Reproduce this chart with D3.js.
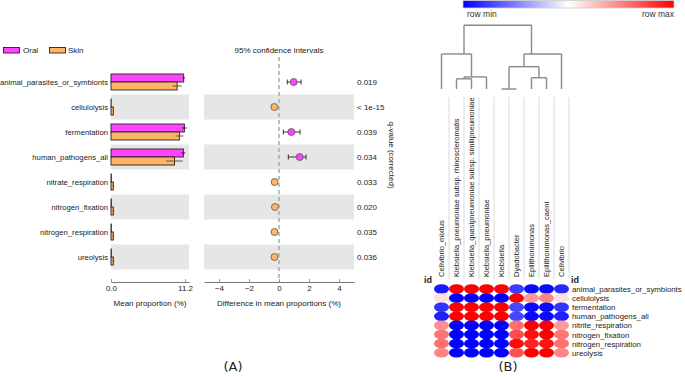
<!DOCTYPE html>
<html><head><meta charset="utf-8">
<script src="https://cdn.jsdelivr.net/npm/d3@7"></script>
<style>body{margin:0;background:#fff} svg{display:block;font-family:"Liberation Sans",Arial,sans-serif}</style>
</head><body><svg id="c" width="685" height="377"></svg>
<script>
// ---------- Data (panel A) ----------
const categories = ["animal_parasites_or_symbionts","cellulolysis","fermentation","human_pathogens_all","nitrate_respiration","nitrogen_fixation","nitrogen_respiration","ureolysis"];
const groups = ["Oral","Skin"];
const oralMean = [11.0, 0.03, 11.1, 10.95, 0.05, 0.05, 0.05, 0.05];
const oralErr  = [0.2, 0.0, 0.35, 0.3, 0.02, 0.02, 0.02, 0.02];
const skinMean = [10.0, 0.35, 10.35, 9.6, 0.35, 0.35, 0.35, 0.35];
const skinErr  = [0.7, 0.08, 0.6, 1.25, 0.15, 0.15, 0.15, 0.15];
const diffMean = [0.98, -0.31, 0.82, 1.38, -0.29, -0.27, -0.30, -0.30];
const diffLow  = [0.55, -0.33, 0.29, 0.62, -0.42, -0.36, -0.42, -0.40];
const diffHigh = [1.47, -0.29, 1.40, 1.80, -0.22, -0.20, -0.22, -0.22];
const qValues  = ["0.019","< 1e-15","0.039","0.034","0.033","0.020","0.035","0.036"];
const barTicks = [0, 11.2];
const diffTicks = [-4, -2, 0, 2, 4];

// ---------- Data (panel B) ----------
const hmColumns = ["Cellvibrio_mixtus","Klebsiella_pneumoniae subsp. rhinoscleromatis","Klebsiella_quasipneumoniae subsp. similipneumoniae","Klebsiella_pneumoniae","Klebsiella","Dyadobacter","Epilithonimonas","Epilithonimonas_caeni","Cellvibrio"];
const hmRows = ["animal_parasites_or_symbionts","cellulolysis","fermentation","human_pathogens_all","nitrite_respiration","nitrogen_fixation","nitrogen_respiration","ureolysis"];
// row-normalised values: 0 = row min, 1 = row max
const hmValues = [
  [0.05, 1, 1, 1, 1, 0.12, 0.02, 0.02, 0.08],
  [0.56, 0, 0, 0, 0, 1, 0.70, 0.74, 0.56],
  [0.10, 1, 1, 1, 1, 0.14, 0.02, 0.02, 0.10],
  [0.06, 1, 1, 1, 1, 0.14, 0.02, 0.02, 0.06],
  [0.72, 0, 0, 0, 0, 0.78, 1, 1, 0.70],
  [0.77, 0, 0, 0, 0, 0.85, 0.97, 1, 0.77],
  [0.78, 0, 0, 0, 0, 0.98, 0.93, 0.96, 0.78],
  [0.74, 0, 0, 0, 0, 0.84, 1, 1, 0.74]
];
// column dendrogram (leaf = column index, h = merge height)
const dendrogram = {h:1, children:[
  {h:0.55, children:[0, {h:0.19, children:[{h:0.16, children:[1,2]}, 3]}]},
  {h:0.55, children:[{h:0.35, children:[{h:0, children:[4,5]}, {h:0.177, children:[6,7]}]}, 8]}
]};

// ---------- Styles ----------
const C_ORAL = "#ff44ff", C_SKIN = "#ffb565", C_BAND = "#e6e6e6";
const svg = d3.select("#c");

// ================= PANEL A =================
const y = d3.scaleBand().domain(categories).range([69.5, 269.5]);
const xBar = d3.scaleLinear().domain([0, 11.8]).range([111, 189]);
const xDiff = d3.scaleLinear().domain([-5, 5]).range([204, 354]);
const axisY = 282;

// bands
const bandIdx = categories.map((c,i)=>i).filter(i=>i%2===1);
svg.append("g").selectAll("rect").data(bandIdx).join("rect")
  .attr("x", xBar(0)).attr("width", xBar.range()[1]-xBar(0))
  .attr("y", i=>y(categories[i])).attr("height", y.bandwidth()).attr("fill", C_BAND);
svg.append("g").selectAll("rect").data(bandIdx).join("rect")
  .attr("x", xDiff.range()[0]).attr("width", xDiff.range()[1]-xDiff.range()[0])
  .attr("y", i=>y(categories[i])).attr("height", y.bandwidth()).attr("fill", C_BAND);

// legend
const leg = svg.append("g").attr("font-size", 8).attr("fill","#222");
[[C_ORAL, groups[0], 3.5, 23],[C_SKIN, groups[1], 49.5, 68]].forEach(([col, name, rx, tx])=>{
  leg.append("rect").attr("x", rx).attr("y", 47.5).attr("width", 16).attr("height", 5.5)
    .attr("fill", col).attr("stroke", "#222").attr("stroke-width", 0.9);
  leg.append("text").attr("x", tx).attr("y", 53).text(name);
});

// row labels
svg.append("g").attr("font-size", 7.7).attr("fill","#222").attr("text-anchor","end")
  .selectAll("text").data(categories).join("text")
  .attr("x", 108).attr("y", c=>y(c)+y.bandwidth()/2+2.8).text(c=>c);

// bars
const bh = 8;
const gb = svg.append("g");
categories.forEach((c,i)=>{
  const cy = y(c)+y.bandwidth()/2;
  gb.append("rect").attr("x", xBar(0)).attr("y", cy-bh).attr("width", Math.max(0,xBar(oralMean[i])-xBar(0))).attr("height", bh)
    .attr("fill", C_ORAL).attr("stroke","#222").attr("stroke-width",0.9);
  gb.append("rect").attr("x", xBar(0)).attr("y", cy).attr("width", Math.max(0,xBar(skinMean[i])-xBar(0))).attr("height", bh)
    .attr("fill", C_SKIN).attr("stroke","#222").attr("stroke-width",0.9);
  gb.append("line").attr("x1", xBar(Math.max(0,oralMean[i]-oralErr[i]))).attr("x2", xBar(oralMean[i]+oralErr[i]))
    .attr("y1", cy-bh/2).attr("y2", cy-bh/2).attr("stroke","#222").attr("stroke-width",1);
  gb.append("line").attr("x1", xBar(Math.max(0,skinMean[i]-skinErr[i]))).attr("x2", xBar(skinMean[i]+skinErr[i]))
    .attr("y1", cy+bh/2).attr("y2", cy+bh/2).attr("stroke","#555").attr("stroke-width",1);
});

// axes
function styleAxis(g){
  g.select(".domain").attr("stroke","#777");
  g.selectAll(".tick line").attr("stroke","#999");
  g.selectAll(".tick text").attr("fill","#222").attr("font-size",8).attr("font-family",'"Liberation Sans",Arial,sans-serif');
}
svg.append("g").attr("transform",`translate(0,${axisY})`)
  .call(d3.axisBottom(xBar).tickValues(barTicks).tickFormat(d3.format(".1f")).tickSizeInner(-3).tickSizeOuter(0).tickPadding(3))
  .call(styleAxis);
svg.append("g").attr("transform",`translate(0,${axisY})`)
  .call(d3.axisBottom(xDiff).tickValues(diffTicks).tickSizeInner(-3).tickSizeOuter(0).tickPadding(3))
  .call(styleAxis);

svg.append("text").attr("x", 150).attr("y", 306).attr("text-anchor","middle").attr("font-size",8).attr("fill","#222").text("Mean proportion (%)");
svg.append("text").attr("x", xDiff(0)).attr("y", 306).attr("text-anchor","middle").attr("font-size",8).attr("fill","#222").text("Difference in mean proportions (%)");
svg.append("text").attr("x", xDiff(0)).attr("y", 53).attr("text-anchor","middle").attr("font-size",8).attr("fill","#222").text("95% confidence intervals");

// zero dashed line
svg.append("line").attr("x1", xDiff(0)).attr("x2", xDiff(0)).attr("y1", 57).attr("y2", axisY)
  .attr("stroke","#aaa").attr("stroke-width",1.5).attr("stroke-dasharray","4,3");

// CIs
const gc = svg.append("g");
categories.forEach((c,i)=>{
  const cy = y(c)+y.bandwidth()/2;
  gc.append("line").attr("x1", xDiff(diffLow[i])).attr("x2", xDiff(diffHigh[i])).attr("y1",cy).attr("y2",cy).attr("stroke","#333").attr("stroke-width",1);
  [diffLow[i], diffHigh[i]].forEach(v=>gc.append("line").attr("x1",xDiff(v)).attr("x2",xDiff(v)).attr("y1",cy-2.5).attr("y2",cy+2.5).attr("stroke","#333").attr("stroke-width",1));
  gc.append("circle").attr("cx", xDiff(diffMean[i])).attr("cy", cy).attr("r", 3.5)
    .attr("fill", diffMean[i] > 0 ? C_ORAL : C_SKIN).attr("stroke","#555").attr("stroke-width",0.8);
});

// q-values
svg.append("g").attr("font-size",8).attr("fill","#222").selectAll("text").data(qValues).join("text")
  .attr("x", 357).attr("y", (q,i)=>y(categories[i])+y.bandwidth()/2+2.8).text(q=>q);
svg.append("text").attr("transform","translate(389,155) rotate(90)").attr("text-anchor","middle")
  .attr("font-size",8).attr("fill","#222").text("q-value (corrected)");

svg.append("text").attr("x",233).attr("y",371).attr("text-anchor","middle").attr("font-size",13)
  .attr("font-family","DejaVu Sans, sans-serif").attr("fill","#222").text("(A)");
svg.append("text").attr("x",508).attr("y",371).attr("text-anchor","middle").attr("font-size",13)
  .attr("font-family","DejaVu Sans, sans-serif").attr("fill","#222").text("(B)");

// ================= PANEL B =================
const hx = d3.scaleBand().domain(hmColumns).range([434, 569]);
const hy = d3.scaleBand().domain(hmRows).range([284.5, 357.3]);
const color = d3.scaleLinear().domain([0, 0.5, 1]).range(["#0000ff","#ffffff","#ff0000"]);

// color bar
const defs = svg.append("defs");
const grad = defs.append("linearGradient").attr("id","cb");
[0,0.25,0.5,0.75,1].forEach(t=>grad.append("stop").attr("offset",t*100+"%").attr("stop-color",color(t)));
svg.append("rect").attr("x",463).attr("y",0.5).attr("width",211).attr("height",7.5)
  .attr("fill","url(#cb)").attr("stroke","#ccc").attr("stroke-width",0.8);
svg.append("text").attr("x",467).attr("y",17).attr("font-size",8.5).attr("fill","#333").text("row min");
svg.append("text").attr("x",674).attr("y",17).attr("text-anchor","end").attr("font-size",8.5).attr("fill","#333").text("row max");

// dendrogram
const dY = d3.scaleLinear().domain([0,1]).range([89, 25.3]);
const cx = i => hx(hmColumns[i]) + hx.bandwidth()/2;
function leaves(n){ return typeof n === "number" ? [n] : n.children.flatMap(leaves); }
function nx(n){ return d3.mean(leaves(n), cx); }
function nh(n){ return typeof n === "number" ? 0 : n.h; }
const gd = svg.append("g").attr("stroke","#8a8a8a").attr("stroke-width",1.4).attr("fill","none");
(function draw(n){
  if (typeof n === "number") return;
  const ys = dY(n.h);
  const xs = n.children.map(nx);
  gd.append("line").attr("x1", xs[0]).attr("x2", xs[1]).attr("y1", ys).attr("y2", ys);
  n.children.forEach((ch,k)=>{
    gd.append("line").attr("x1", xs[k]).attr("x2", xs[k]).attr("y1", dY(nh(ch))).attr("y2", ys);
    draw(ch);
  });
})(dendrogram);

// column separator lines
svg.append("g").selectAll("line").data(hmColumns).join("line")
  .attr("x1", c=>hx(c)+hx.bandwidth()).attr("x2", c=>hx(c)+hx.bandwidth())
  .attr("y1", 97).attr("y2", 279).attr("stroke","#d0d0d0").attr("stroke-width",0.8);

// column labels
svg.append("g").attr("font-size",7.5).attr("fill","#222").selectAll("text").data(hmColumns).join("text")
  .attr("transform", c=>`translate(${hx(c)+hx.bandwidth()/2+2.7},277) rotate(-90)`).text(c=>c);

// id labels
svg.append("text").attr("x",424).attr("y",283).attr("font-size",9).attr("font-weight","bold").attr("fill","#222").text("id");
svg.append("text").attr("x",571).attr("y",283).attr("font-size",9).attr("font-weight","bold").attr("fill","#222").text("id");

// cells
const cells = [];
hmRows.forEach((r,i)=>hmColumns.forEach((c,j)=>cells.push({r,c,v:hmValues[i][j]})));
svg.append("g").selectAll("ellipse").data(cells).join("ellipse")
  .attr("cx", d=>hx(d.c)+hx.bandwidth()/2).attr("cy", d=>hy(d.r)+hy.bandwidth()/2)
  .attr("rx", hx.bandwidth()/2).attr("ry", hy.bandwidth()/2+0.3)
  .attr("fill", d=>color(d.v));

// row labels
svg.append("g").attr("font-size",7.8).attr("fill","#222").selectAll("text").data(hmRows).join("text")
  .attr("x", 572).attr("y", r=>hy(r)+hy.bandwidth()/2+3).text(r=>r);
</script></body></html>
